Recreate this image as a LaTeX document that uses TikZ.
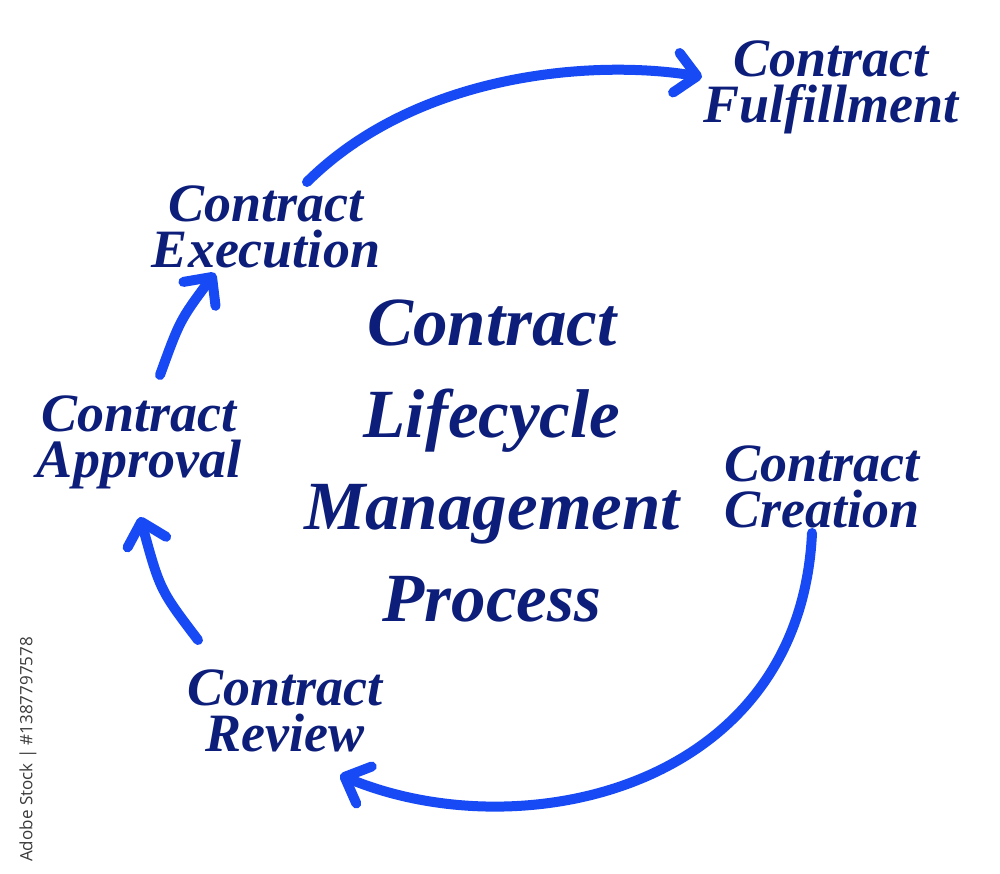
\documentclass[tikz,border=0pt]{standalone}
\usepackage{fontspec}
\setmainfont{Liberation Serif}
\newfontfamily\wmfont{Open Sans}
\usetikzlibrary{arrows.meta}
\definecolor{navy}{HTML}{0C1E7A}
\definecolor{arrowblue}{HTML}{174AF4}
\definecolor{wmgray}{HTML}{3A3A3A}
\begin{document}
\begin{tikzpicture}[x=1pt,y=-1pt,
  label/.style={anchor=base,align=center,inner sep=0pt,text=navy,
    font=\fontsize{54}{46}\selectfont\bfseries\itshape},
  titlestyle/.style={anchor=base,align=center,inner sep=0pt,text=navy,
    font=\fontsize{69}{92}\selectfont\bfseries\itshape},
  arr/.style={draw=arrowblue,line width=10pt,line cap=round,line join=round,
    -{Straight Barb[length=21pt,width=40pt,round]}}]
\useasboundingbox (0,0) rectangle (1000,874);
% base anchor = baseline of the last line
\node[label] (fulfill) at (831,123) {Contract\\Fulfillment};
\node[label] (execution) at (266,268) {Contract\\Execution};
\node[label] (approval) at (139,477) {Contract\\Approval};
\node[label] (creation) at (822,527) {Contract\\Creation};
\node[label] (review) at (285,751) {Contract\\Review};
\node[titlestyle] (title) at (492,621) {Contract\\Lifecycle\\Management\\Process};
\draw[arr] ([shift={(-10,6)}]creation.base) .. controls (800,790) and (520,850) .. ([shift={(55,24)}]review.base);
\draw[arr] ([shift={(-87,-111)}]review.base) .. controls (160,590) .. ([shift={(1,40)}]approval.base);
\draw[arr] ([shift={(21,-102)}]approval.base) .. controls (180,320) .. ([shift={(-51,5)}]execution.base);
\draw[arr] ([shift={(41,-86)}]execution.base) .. controls (420,70) and (600,60) .. ([shift={(-129,-46)}]fulfill.base);
\node[rotate=90,anchor=west,inner sep=0pt,text=wmgray,font=\wmfont\fontsize{17}{20}\selectfont] (wm) at (28,862) {Adobe Stock | \#1387797578};
\end{tikzpicture}
\end{document}
